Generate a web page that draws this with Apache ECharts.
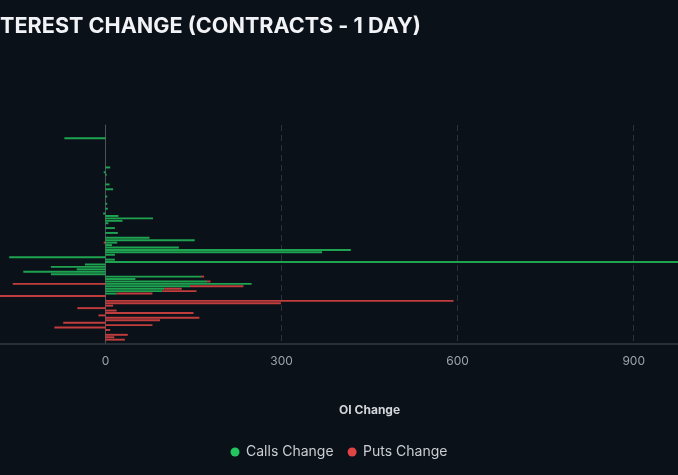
<!DOCTYPE html>
<html>
<head>
<meta charset="utf-8">
<script src="https://cdn.jsdelivr.net/npm/echarts@6/dist/echarts.min.js"></script>
<style>
html,body{margin:0;padding:0;background:#0b1118;}
#c{width:678px;height:475px;}
</style>
</head>
<body>
<div id="c"></div>
<script>
// Strike rows (labels are not visible in the reference), top to bottom
const strikes = Array.from({length: 90}, (_, i) => 'K' + (i + 1));

// Calls change per strike row
const callsChange = [
  0, 0, 0, 0, 0, -70, 0, 0, 0, 0,
  0, 0, 0, 0, 0, 0, 0, 8, 0, -3,
  2, 0, 0, 0, 7, 0, 13, 0, 0, 3,
  0, 0, 3, 0, 4, 0, -4, 22, 81, 29,
  5, 0, 16, 0, 21, 0, 75, 152, 20, 11,
  125, 418, 369, 16, -164, 16, 1080, -35, -93, -49,
  -140, -93, 163, 51, 173, 249, 144, 100, 97, 19,
  0, 0, 0, 0, 0, 0, 0, 0, 0, 0,
  0, 0, 0, 0, 0, 0, 0, 0, 0, 0
];

// Puts change per strike row
const putsChange = [
  0, 0, 0, 0, 0, 0, 0, 0, 0, 0,
  0, 0, 0, 0, 0, 0, 0, 0, 0, 0,
  0, 0, 0, 0, 0, 0, 0, 0, 0, 0,
  0, 0, 0, 0, 0, 0, 0, 0, 0, 0,
  0, 0, 0, 0, 0, 0, 0, 0, -3, 0,
  0, 0, 0, 0, 0, 0, 0, 0, 0, 0,
  0, 0, 5, 0, 6, -158, 91, 30, 58, 61,
  -210, 0, 593, 299, 13, -48, 19, 150, -12, 160,
  93, -72, 80, -87, 8, 0, 38, 15, 33, 0
];

const xTicks = { min: -300, max: 1200, interval: 300 };

const chart = echarts.init(document.getElementById('c'), null, {renderer: 'canvas'});
chart.setOption({
  backgroundColor: '#0b1118',
  animation: false,
  textStyle: { fontFamily: 'Inter, "Noto Sans", sans-serif' },
  title: {
    text: 'OPEN INTEREST CHANGE (CONTRACTS - 1 DAY)',
    right: 257,
    top: 15,
    padding: 0,
    textStyle: { color: '#f1f3f6', fontSize: 21.6, fontWeight: 700, fontFamily: 'Inter' }
  },
  legend: {
    bottom: 11,
    left: 'center',
    icon: 'circle',
    itemWidth: 12,
    itemHeight: 9,
    itemGap: 14,
    textStyle: { color: '#c9cdd3', fontSize: 14 },
    data: [
      { name: 'Calls Change', itemStyle: { color: '#22c55e', opacity: 1 } },
      { name: 'Puts Change', itemStyle: { color: '#e04444', opacity: 1 } }
    ]
  },
  grid: { left: -70.6, right: -131.8, top: 125, bottom: 131.7, outerBoundsMode: 'none', containLabel: false },
  xAxis: {
    type: 'value',
    min: xTicks.min,
    max: xTicks.max,
    interval: xTicks.interval,
    name: 'OI Change',
    nameLocation: 'middle',
    nameGap: 61,
    nameTextStyle: { color: '#d3d6db', fontSize: 12, fontWeight: 700 },
    axisLine: { show: true, onZero: false, lineStyle: { color: '#343a42', width: 1.5 } },
    axisTick: { show: false },
    axisLabel: { color: '#9ea3ab', fontSize: 12, margin: 12 },
    splitLine: { show: true, lineStyle: { color: '#2c323a', type: [6, 4], width: 1 } }
  },
  yAxis: {
    type: 'category',
    data: strikes,
    inverse: true,
    axisLine: { show: true, onZero: true, lineStyle: { color: '#4d535b', width: 1 } },
    axisTick: { show: false },
    axisLabel: { show: false },
    splitLine: { show: false }
  },
  series: [
    {
      name: 'Calls Change',
      type: 'bar',
      stack: 'oi',
      data: callsChange,
      barCategoryGap: '20%',
      itemStyle: { color: 'rgba(34,197,94,0.82)' }
    },
    {
      name: 'Puts Change',
      type: 'bar',
      stack: 'oi',
      data: putsChange,
      barCategoryGap: '20%',
      itemStyle: { color: 'rgba(224,68,68,0.85)' }
    }
  ]
});
</script>
</body>
</html>
